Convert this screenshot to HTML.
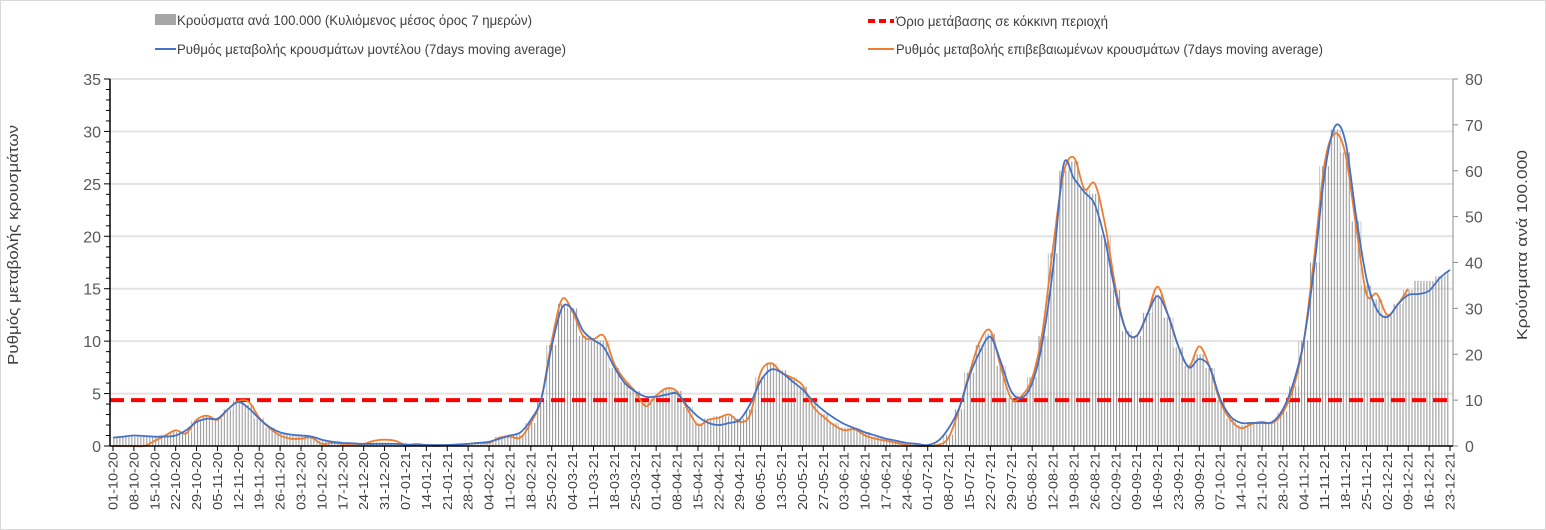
<!DOCTYPE html>
<html><head><meta charset="utf-8"><style>
html,body{margin:0;padding:0;background:#fff;}
svg{display:block;font-family:"Liberation Sans Narrow","Liberation Sans","DejaVu Sans",sans-serif;}
</style></head><body>
<svg id="chart" width="1546" height="530" viewBox="0 0 1546 530" xmlns="http://www.w3.org/2000/svg">
<defs>
<pattern id="barpat" patternUnits="userSpaceOnUse" width="2.984" height="10"><rect x="0" y="0" width="1.1" height="10" fill="#9a9a9a"/></pattern>
</defs>
<rect x="0.5" y="0.5" width="1545" height="529" fill="#fff" stroke="#d9d9d9"/>
<g id="grid"></g>
<g id="bars"></g>
<g id="lines"></g>
<g id="axes"></g>
<g id="legend">
  <rect x="155" y="14" width="21" height="11" fill="#a6a6a6"/>
  <text x="177" y="25" font-size="14" fill="#404040" textLength="355" lengthAdjust="spacingAndGlyphs">Κρούσματα ανά 100.000 (Κυλιόμενος μέσος όρος 7 ημερών)</text>
  <line x1="155" y1="49" x2="176" y2="49" stroke="#4472c4" stroke-width="2"/>
  <text x="177" y="54" font-size="14" fill="#404040" textLength="389" lengthAdjust="spacingAndGlyphs">Ρυθμός μεταβολής κρουσμάτων μοντέλου (7days moving average)</text>
  <line x1="868" y1="21" x2="894" y2="21" stroke="#ff0000" stroke-width="4" stroke-dasharray="7,4"/>
  <text x="896" y="26" font-size="14" fill="#404040" textLength="212" lengthAdjust="spacingAndGlyphs">Όριο μετάβασης σε κόκκινη περιοχή</text>
  <line x1="868" y1="49" x2="894" y2="49" stroke="#ed7d31" stroke-width="2"/>
  <text x="896" y="54" font-size="14" fill="#404040" textLength="427" lengthAdjust="spacingAndGlyphs">Ρυθμός μεταβολής επιβεβαιωμένων κρουσμάτων (7days moving average)</text>
</g>
<text transform="translate(18,245) rotate(-90)" text-anchor="middle" font-size="15" fill="#404040" textLength="240" lengthAdjust="spacingAndGlyphs">Ρυθμός μεταβολής κρουσμάτων</text>
<text transform="translate(1527,245) rotate(-90)" text-anchor="middle" font-size="15" fill="#404040" textLength="190" lengthAdjust="spacingAndGlyphs">Κρούσματα ανά 100.000</text>
</svg>
<script>
// half-week sampled data (step = 3.5 days), starting 01-10-20
const stepDays = 3.5;
const modelRate = [0.8,0.9,1.0,0.95,0.9,0.9,1.0,1.5,2.3,2.6,2.6,3.5,4.2,3.6,2.6,1.8,1.3,1.1,1.0,0.9,0.6,0.4,0.3,0.25,0.2,0.2,0.2,0.2,0.15,0.1,0.1,0.1,0.1,0.15,0.2,0.3,0.4,0.7,1.0,1.3,2.5,4.5,9.5,13.2,13.0,11.0,10.1,9.4,7.5,6.0,5.2,4.7,4.7,4.9,5.0,3.8,2.8,2.2,2.0,2.2,2.5,4.0,6.2,7.3,7.0,6.2,5.4,4.3,3.4,2.7,2.1,1.7,1.3,1.0,0.7,0.5,0.3,0.2,0.1,0.5,1.7,3.6,6.7,9.0,10.4,8.0,5.2,4.6,6.0,10.0,17.0,26.8,25.5,24.2,23.0,19.5,14.5,11.0,10.5,12.5,14.3,12.5,9.5,7.5,8.3,7.5,4.5,2.8,2.2,2.2,2.2,2.3,3.5,6.0,10.0,17.0,26.0,30.5,29.0,22.0,16.0,13.0,12.3,13.5,14.4,14.5,14.8,16.0,16.8];
const confirmedRate = [0,0,0,0,0.5,1.0,1.5,1.2,2.5,2.9,2.5,3.5,4.3,4.2,2.7,1.7,1.0,0.7,0.7,0.8,0.2,0.3,0.2,0.2,0.2,0.5,0.6,0.5,0.1,0.2,0.1,0.0,0.1,0.1,0.2,0.3,0.3,0.8,0.9,0.8,2.2,4.5,10.0,14.0,12.8,10.5,10.2,10.5,7.8,6.3,5.2,3.8,4.8,5.5,5.2,3.5,2.0,2.5,2.7,3.0,2.3,3.0,7.0,7.9,7.0,6.5,5.8,3.8,2.8,2.0,1.5,1.6,1.0,0.7,0.5,0.3,0.1,0.0,0.0,0.1,0.8,3.5,7.0,10.0,11.0,7.5,4.5,4.8,6.5,11.0,19.0,26.0,27.5,24.5,25.0,21.0,15.0,11.0,10.5,12.5,15.2,12.5,9.5,7.6,9.5,7.5,4.2,2.5,1.7,2.1,2.3,2.2,3.2,5.5,10.0,18.0,27.0,29.8,27.8,21.0,14.5,14.5,12.5,13.5,15.0];
const casesPer100k = [2,2,2,2,2,2.5,3,3,5.5,6.5,6,8,10,9,6,4,2.8,2.5,2.5,2.2,1.2,0.8,0.6,0.5,0.5,0.8,0.8,0.7,0.4,0.3,0.3,0.2,0.3,0.4,0.5,0.7,0.8,2,2.5,2.5,5,10,22,31,30,24,23,23,17,14,12,10,11,12.5,12,8.5,5,6,6.5,6.5,6,8,15,18,16.5,15,13,9.5,7,5,4,4,3,2,1.5,1,0.5,0.4,0.3,0.5,2.5,8,16,22,24.5,17.5,10.5,11,15,24,42,60,62,56,55,46,34,25,24,29,33,28,21.5,17.5,20,17,10,6,4.5,5,5,5.2,7.5,13,23,40,61,69,64,49,35,32,28.5,31,34,36,36,37,38];
const thresholdRate = 4.375;
const leftTicks = [0,5,10,15,20,25,30,35];
const rightTicks = [0,10,20,30,40,50,60,70,80];
const startDate = [2020,9,1]; // 01-10-20
const totalDays = 448;
const labelEveryDays = 7;

const NS = "http://www.w3.org/2000/svg";
const X0 = 113, X1 = 1450, PL = 110, PR = 1453, YB = 446, YT = 79;
const xDay = d => X0 + d * (X1 - X0) / totalDays;
const yL = v => YB - v * (YB - YT) / 35;
const yR = v => YB - v * (YB - YT) / 80;
function mk(tag, attrs, parent){ const e=document.createElementNS(NS,tag); for(const k in attrs) e.setAttribute(k,attrs[k]); parent.appendChild(e); return e; }
const grid=document.getElementById('grid'), bars=document.getElementById('bars'), lines=document.getElementById('lines'), axes=document.getElementById('axes');

leftTicks.forEach(t=>{
  if(t>0){ const g=mk('line',{x1:PL,x2:PR,y1:yL(t),y2:yL(t),stroke:'#e3e3e3','stroke-width':2},grid);
  
   }
  const tx=mk('text',{x:101,y:yL(t)+6,'text-anchor':'end','font-size':16,fill:'#595959'},axes);
  tx.textContent=t;
  
  
});
for(let v=0;v<=35;v++){ const big=v%5===0; mk('line',{x1:big?PL-6:PL-4,x2:PL,y1:yL(v),y2:yL(v),stroke:'#000','stroke-width':1},axes); }
rightTicks.forEach(t=>{
  mk('line',{x1:PR,x2:PR+5,y1:yR(t),y2:yR(t),stroke:'#8c8c8c','stroke-width':1},axes);
  const tx=mk('text',{x:PR+12,y:yR(t)+6,'font-size':16,fill:'#595959'},axes);
  tx.textContent=t;
  
  
});

casesPer100k.forEach((v,i)=>{
  const d0=Math.max(0,i*stepDays-stepDays/2), d1=Math.min(totalDays,i*stepDays+stepDays/2);
  const r=mk('rect',{x:xDay(d0),y:yR(v),width:xDay(d1)-xDay(d0)+0.01,height:YB-yR(v),fill:'url(#barpat)'},bars);
  
  
});

const th=mk('line',{x1:PL,x2:PR,y1:yL(thresholdRate),y2:yL(thresholdRate),stroke:'#ff0000','stroke-width':4,'stroke-dasharray':'14,7'},lines);



function smoothPath(vals){
  const pts=vals.map((v,i)=>[xDay(i*stepDays),yL(v)]);
  let d='M'+pts[0][0].toFixed(1)+','+pts[0][1].toFixed(1);
  for(let i=0;i<pts.length-1;i++){
    const p0=pts[Math.max(0,i-1)],p1=pts[i],p2=pts[i+1],p3=pts[Math.min(pts.length-1,i+2)];
    const c1=[p1[0]+(p2[0]-p0[0])/6,p1[1]+(p2[1]-p0[1])/6], c2=[p2[0]-(p3[0]-p1[0])/6,p2[1]-(p3[1]-p1[1])/6];
    d+=' C'+c1.map(n=>n.toFixed(1)).join(',')+' '+c2.map(n=>n.toFixed(1)).join(',')+' '+p2[0].toFixed(1)+','+p2[1].toFixed(1);
  }
  return d;
}
const lc=mk('path',{d:smoothPath(confirmedRate),fill:'none',stroke:'#ed7d31','stroke-width':1.8},lines);


const lm=mk('path',{d:smoothPath(modelRate),fill:'none',stroke:'#4472c4','stroke-width':1.8},lines);



mk('line',{x1:PL,x2:PL,y1:YT,y2:YB,stroke:'#000','stroke-width':1.5},axes);
mk('line',{x1:PR,x2:PR,y1:YT,y2:YB,stroke:'#8c8c8c','stroke-width':1},axes);
mk('line',{x1:PL,x2:PR,y1:YB,y2:YB,stroke:'#000','stroke-width':1.5},axes);

const pad=n=>String(n).padStart(2,'0');
for(let d=0; d<=totalDays; d+=labelEveryDays){
  const dt=new Date(Date.UTC(startDate[0],startDate[1],startDate[2]+d));
  const lab=pad(dt.getUTCDate())+'-'+pad(dt.getUTCMonth()+1)+'-'+String(dt.getUTCFullYear()).slice(2);
  const x=xDay(d);
  mk('line',{x1:x,x2:x,y1:YB,y2:YB+5,stroke:'#000','stroke-width':1},axes);
  const t=mk('text',{transform:'translate('+(x+4.5)+','+(YB+6)+') rotate(-90)','text-anchor':'end','font-size':12.5,fill:'#404040',textLength:58,lengthAdjust:'spacingAndGlyphs'},axes);
  t.textContent=lab;
  
  
}
</script>
</body></html>
